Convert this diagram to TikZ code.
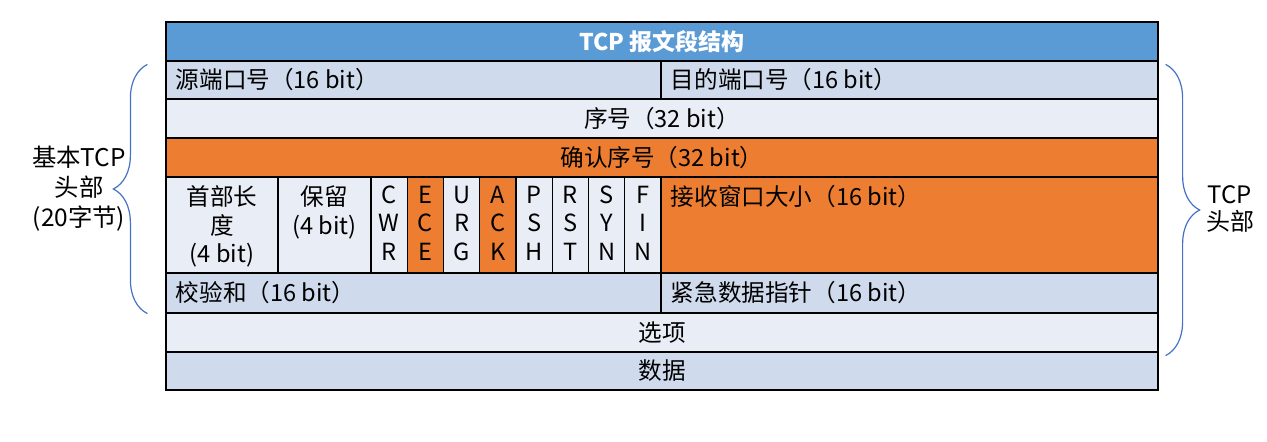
\documentclass[tikz,border=0pt]{standalone}
\usepackage{fontspec}
\setmainfont{Noto Sans CJK SC}
\usetikzlibrary{positioning, decorations.pathreplacing}
\definecolor{titleblue}{RGB}{91,155,213}
\definecolor{rowdark}{RGB}{207,218,236}
\definecolor{rowlight}{RGB}{233,237,246}
\definecolor{flagorange}{RGB}{237,125,49}
\definecolor{braceblue}{RGB}{68,114,196}

\tikzset{
  cell/.style={draw=black, line width=0.6pt, inner sep=0pt, minimum height=19.5pt},
  txt/.style={inner sep=0pt, align=center},
  bracket/.style={draw=braceblue, line width=0.6pt, decorate,
                  decoration={brace, amplitude=17pt}}
}

\begin{document}
\begin{tikzpicture}[x=0.5pt, y=-0.5pt, font=\fontsize{11.8}{14.25}\selectfont]
    \useasboundingbox (0,0) rectangle (1267,442);

    % header
    \node[cell, fill=titleblue, minimum width=496pt, text=white, font=\fontsize{11.5}{14}\selectfont\bfseries] (title) at (662,41.5) {TCP 报文段结构};

    % ports
    \node[cell, fill=rowdark, minimum width=247.5pt, minimum height=19pt] (srcport) at (413.5,80) {};
    \node[cell, fill=rowdark, minimum width=248.5pt, minimum height=19pt] (dstport) at (909.5,80) {};
    \node[txt, anchor=west] (srctxt) at ([xshift=5pt]srcport.west) {源端口号（16 bit）};
    \node[txt, anchor=west] (dsttxt) at ([xshift=5pt]dstport.west) {目的端口号（16 bit）};

    % sequence numbers
    \node[cell, fill=rowlight, minimum width=496pt] (seq) at (662,118.5) {序号（32 bit）};
    \node[cell, fill=flagorange, minimum width=496pt] (ackseq) at (662,157.5) {确认序号（32 bit）};

    % header length, reserved, flags, window
    \node[cell, fill=rowlight, minimum width=56pt, minimum height=48pt] (hlen) at (222,225) {};
    \node[cell, fill=rowlight, minimum width=46.5pt, minimum height=48pt] (rsvd) at (324.5,225) {};
    \node[txt, anchor=north] (hlentxt) at ([yshift=-4.5pt]hlen.north) {首部长\\度\\(4 bit)};
    \node[txt, anchor=north] (rsvdtxt) at ([yshift=-4.5pt]rsvd.north) {保留\\(4 bit)};
    \foreach \letters/\col [count=\i] in {{C\\W\\R}/rowlight, {E\\C\\E}/flagorange,
        {U\\R\\G}/rowlight, {A\\C\\K}/flagorange, {P\\S\\H}/rowlight,
        {R\\S\\T}/rowlight, {S\\Y\\N}/rowlight, {F\\I\\N}/rowlight} {
      \node[cell, fill=\col, minimum width=18.125pt, minimum height=48pt] (flag\i) at ({371+36.25*(\i-0.5)},225) {};
      \node[txt, anchor=north] at ([yshift=-4.5pt]flag\i.north) {\letters};
    }
    \node[cell, fill=flagorange, minimum width=248.5pt, minimum height=48pt] (window) at (909.5,225) {};
    \node[txt, anchor=north west] (wintxt) at ([xshift=5pt, yshift=-4.5pt]window.north west) {接收窗口大小（16 bit）};

    % checksum, urgent pointer
    \node[cell, fill=rowdark, minimum width=247.5pt, minimum height=20pt] (checksum) at (413.5,293) {};
    \node[cell, fill=rowdark, minimum width=248.5pt, minimum height=20pt] (urgent) at (909.5,293) {};
    \node[txt, anchor=west] (chktxt) at ([xshift=5pt]checksum.west) {校验和（16 bit）};
    \node[txt, anchor=west] (urgtxt) at ([xshift=5pt]urgent.west) {紧急数据指针（16 bit）};

    % options, data
    \node[cell, fill=rowlight, minimum width=496pt] (options) at (662,332.5) {选项};
    \node[cell, fill=rowdark, minimum width=496pt, minimum height=19pt] (data) at (662,371) {数据};

    % braces
    \coordinate (lbot) at ([xshift=-9pt]checksum.south west);
    \coordinate (ltop) at ([xshift=-9pt, yshift=-2pt]srcport.north west);
    \coordinate (rtop) at ([xshift=3.5pt, yshift=-2pt]dstport.north east);
    \coordinate (rbot) at ([xshift=3.5pt, yshift=-1.5pt]options.south east);
    \draw[bracket] (lbot) -- (ltop);
    \draw[bracket] (rtop) -- (rbot);
    \node[txt, font=\fontsize{12.2}{15}\selectfont] (basehdr) at (79,189) {基本TCP\\头部\\(20字节)};
    \node[txt, font=\fontsize{12}{13.5}\selectfont] (tcphdr) at (1230,209) {TCP\\头部};
\end{tikzpicture}
\end{document}
